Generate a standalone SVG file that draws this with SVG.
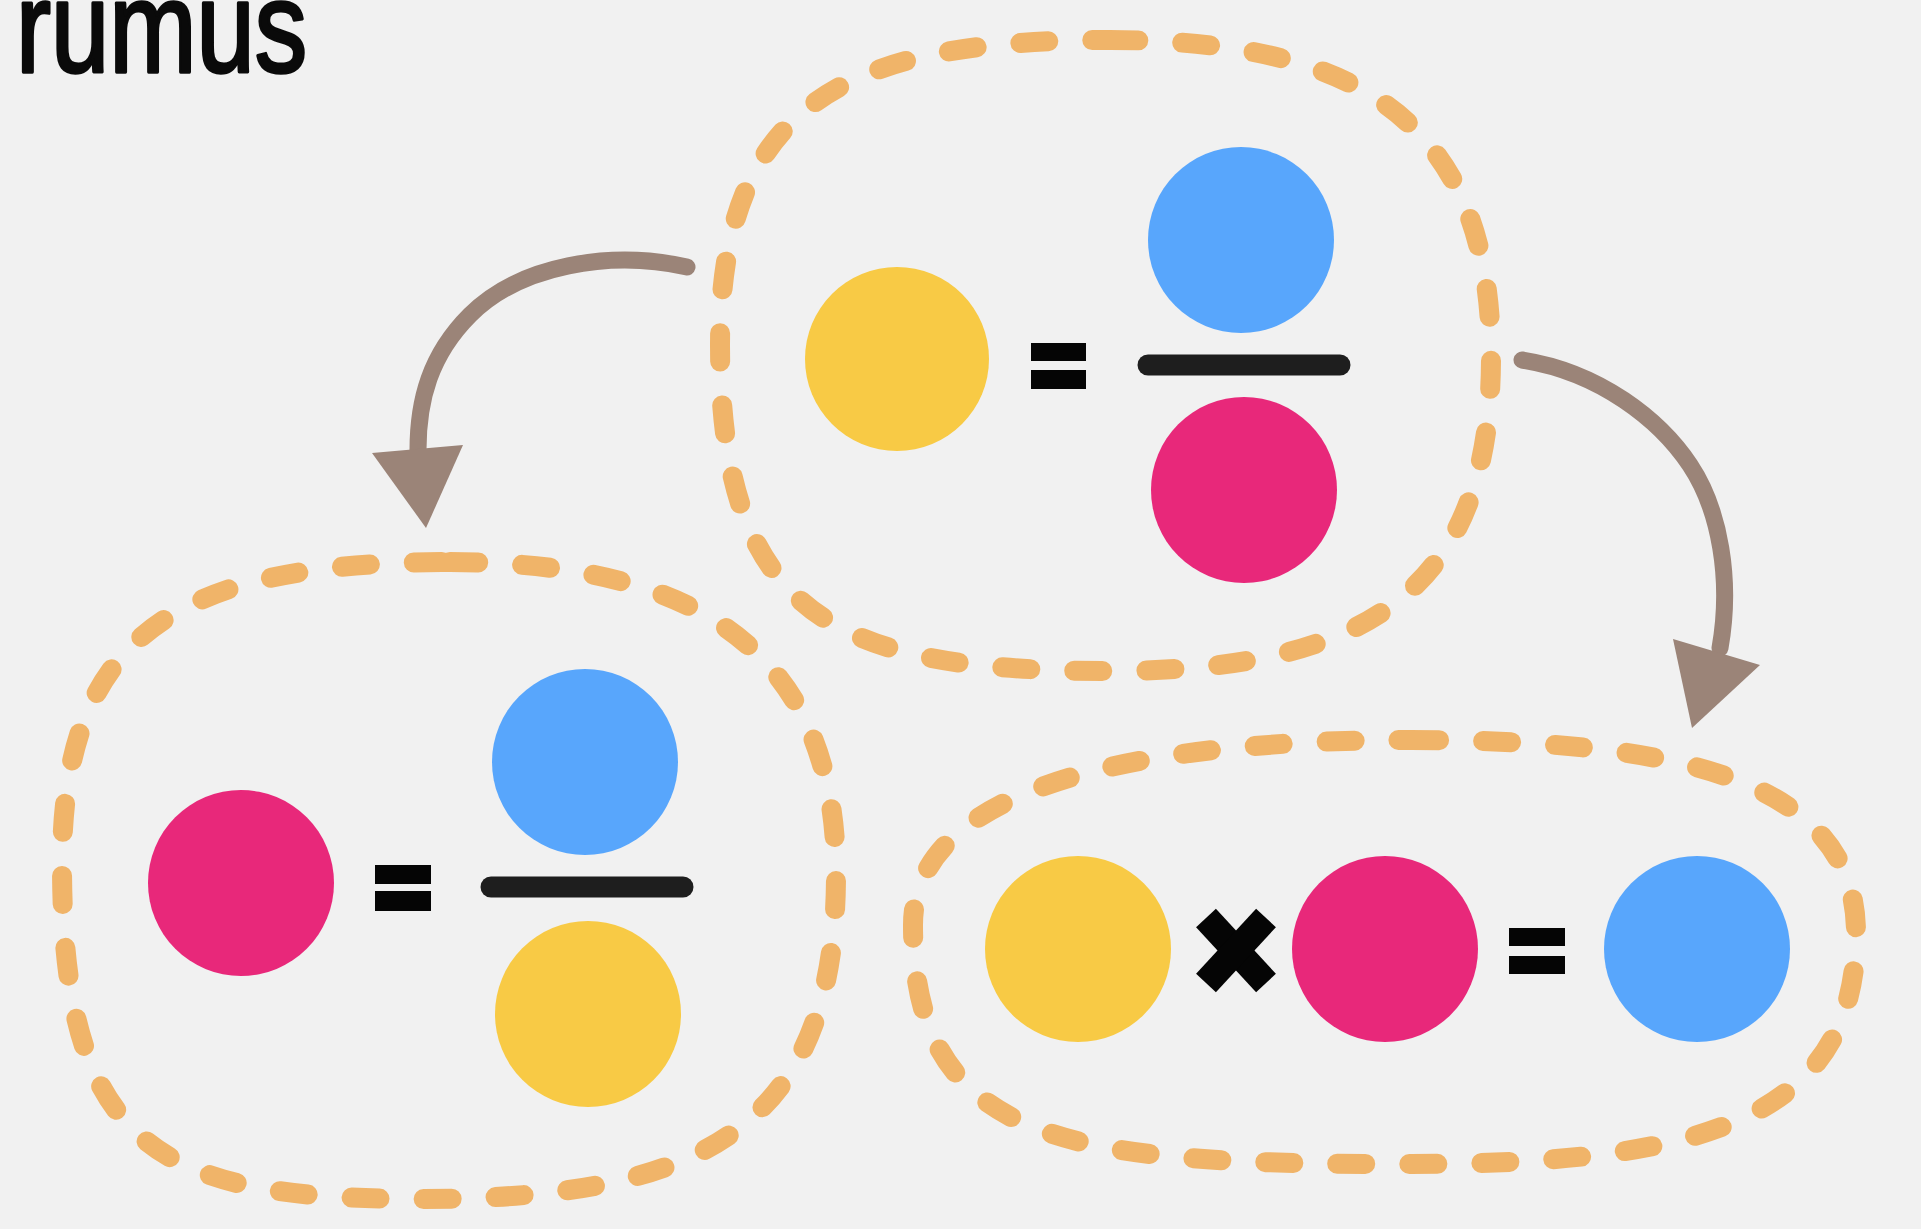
<svg xmlns="http://www.w3.org/2000/svg" width="1921" height="1229" viewBox="0 0 1921 1229">
  <defs>
    <style>
      .bg { fill: #f1f1f1; }
      .outline { fill: none; stroke: #f0b469; stroke-width: 20; stroke-linecap: round; stroke-dasharray: 28 44; }
      .yellow { fill: #f8ca45; }
      .blue { fill: #58a6fc; }
      .pink { fill: #e8287a; }
      .bar { stroke: #1e1e1e; stroke-width: 21; stroke-linecap: round; }
      .eq { fill: #050505; }
      .times { stroke: #050505; stroke-width: 27; stroke-linecap: butt; }
      .link { fill: none; stroke: #9b8478; stroke-width: 17; stroke-linecap: round; }
      .head { fill: #9b8478; }
      .title { font-family: "Liberation Sans", Arial, sans-serif; font-size: 130px; fill: #0a0a0a; stroke: #0a0a0a; stroke-width: 3.5; stroke-linejoin: round; }
    </style>
  </defs>

  <rect class="bg" x="0" y="0" width="1921" height="1229"/>

  <text id="title" class="title" x="16" y="72" textLength="291" lengthAdjust="spacingAndGlyphs">rumus</text>

  <!-- yellow = blue / pink -->
  <g id="node-top">
    <path class="outline" d="M1110,40 C1355,40 1491,120 1491,357 C1491,580 1380,671 1110,671 C840,671 720,620 720,345 C720,100 850,40 1110,40 Z"/>
    <circle class="yellow" cx="897" cy="359" r="92"/>
    <rect class="eq" x="1031" y="343" width="55" height="18"/>
    <rect class="eq" x="1031" y="370" width="55" height="19"/>
    <line class="bar" x1="1148" y1="365" x2="1340" y2="365"/>
    <circle class="blue" cx="1241" cy="240" r="93"/>
    <circle class="pink" cx="1244" cy="490" r="93"/>
  </g>

  <!-- pink = blue / yellow -->
  <g id="node-left">
    <path class="outline" d="M450,562 C680,562 836,640 836,874 C836,1130 700,1199 420,1199 C160,1199 62,1150 62,865 C62,640 170,562 450,562 Z"/>
    <circle class="pink" cx="241" cy="883" r="93"/>
    <rect class="eq" x="375" y="865" width="56" height="19"/>
    <rect class="eq" x="375" y="891" width="56" height="20"/>
    <line class="bar" x1="491" y1="887" x2="683" y2="887"/>
    <circle class="blue" cx="585" cy="762" r="93"/>
    <circle class="yellow" cx="588" cy="1014" r="93"/>
  </g>

  <!-- yellow x pink = blue -->
  <g id="node-right">
    <path class="outline" d="M1411,740 C1650,740 1856,770 1856,933 C1856,1120 1700,1164 1411,1164 C1080,1164 913,1150 913,925 C913,800 1100,740 1411,740 Z"/>
    <circle class="yellow" cx="1078" cy="949" r="93"/>
    <line class="times" x1="1206" y1="918" x2="1266" y2="983"/>
    <line class="times" x1="1266" y1="918" x2="1206" y2="983"/>
    <circle class="pink" cx="1385" cy="949" r="93"/>
    <rect class="eq" x="1509" y="928" width="56" height="18"/>
    <rect class="eq" x="1509" y="956" width="56" height="18"/>
    <circle class="blue" cx="1697" cy="949" r="93"/>
  </g>

  <g id="connectors">
    <path class="link" d="M687,267 C610,250 520,265 470,315 C430,355 418,400 418,450"/>
    <polygon class="head" points="372,453 463,445 426,528"/>
    <path class="link" d="M1522,360 C1600,372 1660,420 1690,465 C1720,510 1732,580 1720,648"/>
    <polygon class="head" points="1673,639 1760,665 1692,728"/>
  </g>
</svg>
